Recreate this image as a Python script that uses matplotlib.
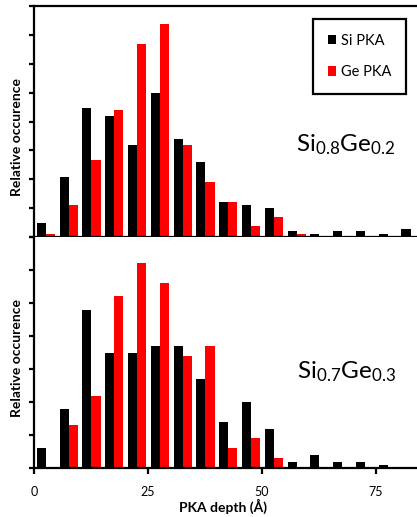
import matplotlib.pyplot as plt
import numpy as np

# PKA depth bins (Angstrom), 5 A wide
depth_bins = [0, 5, 10, 15, 20, 25, 30, 35, 40, 45, 50, 55, 60, 65, 70, 75, 80]

# Si0.8Ge0.2 (relative occurence, tick units)
si_08 = [0.49, 2.09, 4.48, 4.19, 3.19, 4.97, 3.38, 2.59, 1.20, 1.10, 0.99, 0.21, 0.09, 0.21, 0.21, 0.09, 0.29]
ge_08 = [0.09, 1.10, 2.68, 4.39, 6.69, 7.37, 3.19, 1.89, 1.20, 0.39, 0.70, 0.10, 0, 0, 0, 0, 0]

# Si0.7Ge0.3
si_07 = [0.59, 1.78, 4.79, 3.49, 3.49, 3.70, 3.70, 2.68, 1.38, 1.99, 1.18, 0.18, 0.39, 0.18, 0.18, 0.09, 0]
ge_07 = [0, 1.29, 2.19, 5.20, 6.21, 5.61, 3.40, 3.70, 0.59, 0.89, 0.28, 0, 0, 0, 0, 0, 0]

x_ticks = [0, 25, 50, 75]

plt.rcParams['font.family'] = ['Lato', 'DejaVu Sans']
plt.rcParams['mathtext.fontset'] = 'custom'
plt.rcParams['mathtext.rm'] = 'Lato'
plt.rcParams['mathtext.it'] = 'Lato'

W, H = 417, 517
fig = plt.figure(figsize=(W / 100, H / 100), dpi=100)

def fx(px):
    return px / W

def fy(py):
    return 1 - py / H

left = fx(34)
width = 1 - left
ax1 = fig.add_axes([left, fy(237), width, (237 - 6) / H])
ax2 = fig.add_axes([left, fy(467.7), width, (467.7 - 237) / H])

x = np.array(depth_bins, dtype=float)
lw = 1.6

def draw(ax, si, ge, ymax, label, label_y):
    ax.bar(x + 0.6, si, width=2.0, align='edge', color='black', label='Si PKA')
    ax.bar(x + 2.6, ge, width=2.0, align='edge', color='#ff0000', label='Ge PKA')
    ax.set_xlim(0, 84)
    ax.set_ylim(0, ymax)
    ax.set_yticks(range(0, ymax + 1))
    ax.set_yticklabels([])
    ax.tick_params(axis='y', direction='out', length=3.5, width=lw)
    ax.spines['right'].set_visible(False)
    for s in ['left', 'bottom', 'top']:
        ax.spines[s].set_linewidth(lw)
    ax.text(fx(346), fy(label_y), label, transform=fig.transFigure,
            ha='center', va='baseline', fontsize=17.5)

draw(ax1, si_08, ge_08, 8, r'Si$_{0.8}$Ge$_{0.2}$', 151)
draw(ax2, si_07, ge_07, 7, r'Si$_{0.7}$Ge$_{0.3}$', 378)

ax1.set_xticks([])
ax2.spines['top'].set_visible(False)
ax2.set_xticks(x_ticks)
ax2.set_xticklabels([str(t) for t in x_ticks], fontsize=9)
ax2.tick_params(axis='x', direction='out', length=4, width=lw, pad=9)

fig.text(fx(17), fy(137), 'Relative occurence', rotation=90, ha='center', va='center',
         fontsize=10, fontweight='bold')
fig.text(fx(17), fy(358), 'Relative occurence', rotation=90, ha='center', va='center',
         fontsize=10, fontweight='bold')
fig.text(fx(223), fy(506), 'PKA depth (Å)', ha='center', va='center',
         fontsize=10, fontweight='bold')

leg = ax1.legend(loc='upper left', bbox_to_anchor=(fx(313), fy(19)),
                 bbox_transform=fig.transFigure, fontsize=10.5, frameon=True,
                 fancybox=False, edgecolor='black', framealpha=1,
                 handlelength=0.6, handleheight=0.6, handletextpad=0.3,
                 labelspacing=1.2, borderpad=1.0, borderaxespad=0)
leg.get_frame().set_linewidth(lw)

fig.savefig('out.png', dpi=100)
